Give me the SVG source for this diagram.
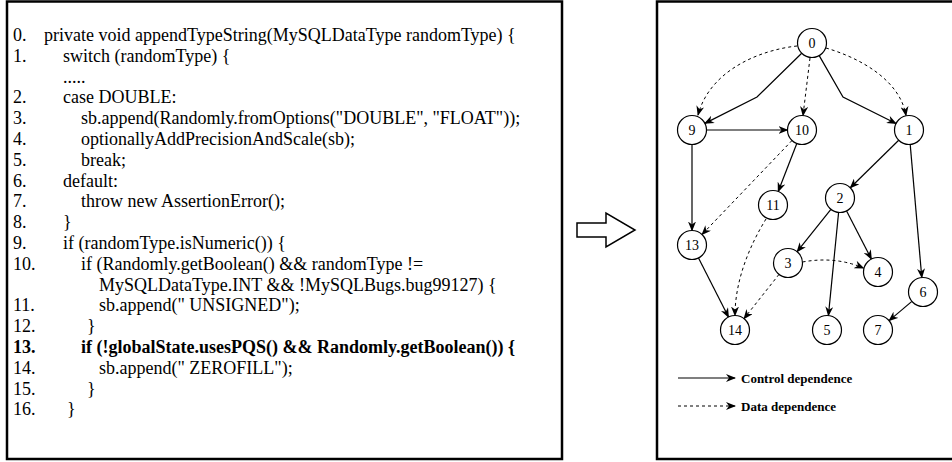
<svg xmlns="http://www.w3.org/2000/svg" width="952" height="462" viewBox="0 0 952 462">
<style>
.code{font-family:"Liberation Serif","Times New Roman",serif;font-size:18px;fill:#000}
.b{font-weight:bold}
.frame{fill:#fff;stroke:#000;stroke-width:2.5}
.node circle{fill:#fff;stroke:#000;stroke-width:1.2}
.node text{font-family:"Liberation Serif","Times New Roman",serif;font-size:14px;text-anchor:middle;dominant-baseline:central;fill:#000}
.ctl{fill:none;stroke:#000;stroke-width:1.2;marker-end:url(#ah)}
.dat{fill:none;stroke:#000;stroke-width:1;stroke-dasharray:3 3;marker-end:url(#ah)}
.leg{font-family:"Liberation Serif","Times New Roman",serif;font-size:13px;font-weight:bold;fill:#000}
</style>
<defs>
<marker id="ah" viewBox="0 0 10 8" refX="9" refY="4" markerWidth="10" markerHeight="8" markerUnits="userSpaceOnUse" orient="auto">
<path d="M0,0 L10,4 L0,8 L3,4 z" fill="#000"/>
</marker>
</defs>
<rect width="952" height="462" fill="#fff"/>
<g id="code-panel">
<rect class="frame" x="7" y="1.5" width="555" height="457.5"/>
<g class="code">
<text x="13" y="41">0.</text><text x="44" y="41">private void appendTypeString(MySQLDataType randomType) {</text>
<text x="13" y="61.8">1.</text><text x="63" y="61.8">switch (randomType) {</text>
<text x="63" y="82.6">.....</text>
<text x="13" y="103.4">2.</text><text x="63" y="103.4">case DOUBLE:</text>
<text x="13" y="124.2">3.</text><text x="81" y="124.2">sb.append(Randomly.fromOptions("DOUBLE", "FLOAT"));</text>
<text x="13" y="145">4.</text><text x="81" y="145">optionallyAddPrecisionAndScale(sb);</text>
<text x="13" y="165.8">5.</text><text x="81" y="165.8">break;</text>
<text x="13" y="186.6">6.</text><text x="63" y="186.6">default:</text>
<text x="13" y="207.4">7.</text><text x="81" y="207.4">throw new AssertionError();</text>
<text x="13" y="228.2">8.</text><text x="63" y="228.2">}</text>
<text x="13" y="249">9.</text><text x="63" y="249">if (randomType.isNumeric()) {</text>
<text x="13" y="269.8">10.</text><text x="81" y="269.8">if (Randomly.getBoolean() &amp;&amp; randomType !=</text>
<text x="99" y="290.6">MySQLDataType.INT &amp;&amp; !MySQLBugs.bug99127) {</text>
<text x="13" y="311.4">11.</text><text x="99" y="311.4">sb.append(" UNSIGNED");</text>
<text x="13" y="332.2">12.</text><text x="87" y="332.2">}</text>
<text class="b" x="13" y="353">13.</text><text class="b" x="81" y="353">if (!globalState.usesPQS() &amp;&amp; Randomly.getBoolean()) {</text>
<text x="13" y="373.8">14.</text><text x="99" y="373.8">sb.append(" ZEROFILL");</text>
<text x="13" y="394.6">15.</text><text x="87" y="394.6">}</text>
<text x="13" y="415.4">16.</text><text x="67" y="415.4">}</text>
</g>
</g>
<g id="transform-arrow">
<polygon points="577,223 606,223 606,213 635,230 606,247 606,237 577,237" fill="#fff" stroke="#000" stroke-width="1.5"/>
</g>
<g id="graph-panel">
<rect class="frame" x="657" y="1.5" width="300" height="457.5"/>
</g>
<g id="connectors">
<polyline class="ctl" points="801.7,53.2 757,97 704.9,123.4"/>
<polyline class="ctl" points="819.2,55.6 843,97 896,123.5"/>
<path class="dat" d="M797,46 C760,50 710,70 698,115"/>
<path class="dat" d="M810,58 L803,115.5"/>
<path class="dat" d="M826,48 C860,58 900,80 906,115.5"/>
<path class="ctl" d="M706.5,130 L787.5,130"/>
<path class="ctl" d="M692,144.5 L692,230.5"/>
<path class="ctl" d="M796.8,143.5 L778.2,191.5"/>
<path class="dat" d="M792,140.5 L702,234.5"/>
<path class="ctl" d="M898.7,140.2 L850.3,187.8"/>
<path class="ctl" d="M910.2,144.4 L921.8,277.6"/>
<path class="ctl" d="M830.9,209.3 L797.1,251.7"/>
<path class="ctl" d="M838.6,212.4 L828.4,315.6"/>
<path class="ctl" d="M846.6,210.9 L871.4,259.1"/>
<path class="dat" d="M802.5,262 Q835,256 863.5,268"/>
<path class="dat" d="M779,274.4 L744,318.6"/>
<path class="dat" d="M766,219 C750,245 735,280 735,315.5"/>
<path class="ctl" d="M698.5,257.9 L728.5,317.1"/>
<path class="ctl" d="M911.9,301.4 L889.1,320.6"/>
</g>
<g id="n0" class="node"><circle cx="812" cy="43" r="14.5"/><text x="812" y="43">0</text></g>
<g id="n9" class="node"><circle cx="692" cy="130" r="14.5"/><text x="692" y="130">9</text></g>
<g id="n10" class="node"><circle cx="802" cy="130" r="14.5"/><text x="802" y="130">10</text></g>
<g id="n1" class="node"><circle cx="909" cy="130" r="14.5"/><text x="909" y="130">1</text></g>
<g id="n2" class="node"><circle cx="840" cy="198" r="14.5"/><text x="840" y="198">2</text></g>
<g id="n11" class="node"><circle cx="773" cy="205" r="14.5"/><text x="773" y="205">11</text></g>
<g id="n13" class="node"><circle cx="692" cy="245" r="14.5"/><text x="692" y="245">13</text></g>
<g id="n3" class="node"><circle cx="788" cy="263" r="14.5"/><text x="788" y="263">3</text></g>
<g id="n4" class="node"><circle cx="878" cy="272" r="14.5"/><text x="878" y="272">4</text></g>
<g id="n6" class="node"><circle cx="923" cy="292" r="14.5"/><text x="923" y="292">6</text></g>
<g id="n14" class="node"><circle cx="735" cy="330" r="14.5"/><text x="735" y="330">14</text></g>
<g id="n5" class="node"><circle cx="827" cy="330" r="14.5"/><text x="827" y="330">5</text></g>
<g id="n7" class="node"><circle cx="878" cy="330" r="14.5"/><text x="878" y="330">7</text></g>
<g id="legend">
<path class="ctl" d="M678,378 L735,378"/>
<text class="leg" x="741" y="382.5">Control dependence</text>
<path class="dat" d="M678,406 L735,406"/>
<text class="leg" x="741" y="410.5">Data dependence</text>
</g>
</svg>
